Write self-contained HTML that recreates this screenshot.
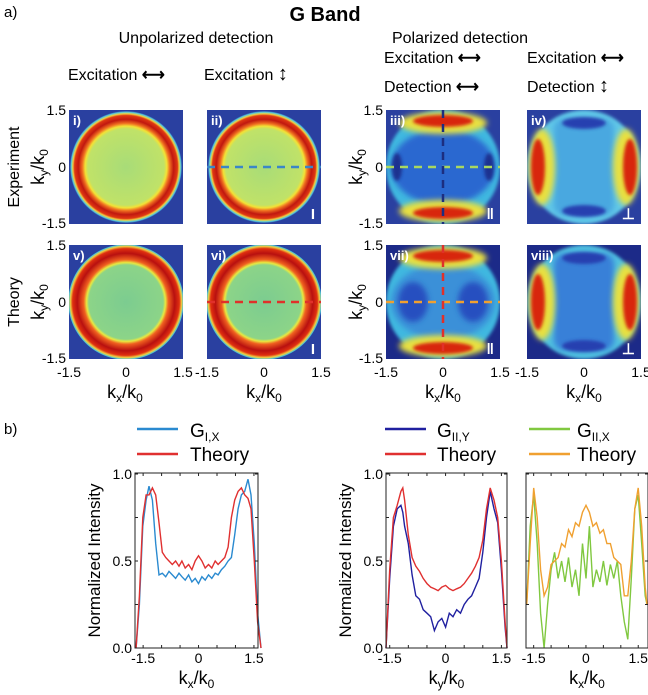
<!DOCTYPE html>
<html><head><meta charset="utf-8"><style>
body{margin:0;background:#fff;}
svg{display:block;font-family:"Liberation Sans",sans-serif;}
</style></head><body>
<svg id="fig" width="648" height="695" viewBox="0 0 648 695">
<defs>
<radialGradient id="gExp" cx="50%" cy="50%" r="50%">
<stop offset="0" stop-color="#a8dc78"/><stop offset="0.68" stop-color="#c0e268"/>
<stop offset="0.73" stop-color="#f2e236"/><stop offset="0.78" stop-color="#f07020"/>
<stop offset="0.85" stop-color="#c01810"/><stop offset="0.92" stop-color="#e03812"/>
<stop offset="0.95" stop-color="#f0d040"/><stop offset="0.98" stop-color="#50c8e0"/>
<stop offset="1" stop-color="#2c4aa8"/></radialGradient>
<radialGradient id="gTh" cx="50%" cy="50%" r="50%">
<stop offset="0" stop-color="#7ccc90"/><stop offset="0.64" stop-color="#8cd488"/>
<stop offset="0.68" stop-color="#e8e840"/><stop offset="0.73" stop-color="#f06020"/>
<stop offset="0.84" stop-color="#b81010"/><stop offset="0.92" stop-color="#e03010"/>
<stop offset="0.96" stop-color="#f0d040"/><stop offset="0.99" stop-color="#40c0e0"/>
<stop offset="1" stop-color="#243c9c"/></radialGradient>
<filter id="bl" x="-50%" y="-50%" width="200%" height="200%"><feGaussianBlur stdDeviation="3"/></filter>
<filter id="bl2" x="-50%" y="-50%" width="200%" height="200%"><feGaussianBlur stdDeviation="1.5"/></filter>
</defs>

<text x="4" y="17" font-size="15">a)</text>
<text x="325" y="21" font-size="20" font-weight="bold" text-anchor="middle">G Band</text>
<text x="196" y="43" font-size="16" text-anchor="middle">Unpolarized detection</text>
<text x="460" y="43" font-size="16" text-anchor="middle">Polarized detection</text>
<text x="68" y="80" font-size="16">Excitation <tspan font-weight="bold">⟷</tspan></text>
<text x="204" y="80" font-size="16">Excitation <tspan font-weight="bold" font-size="20">↕</tspan></text>
<text x="384" y="63" font-size="16">Excitation <tspan font-weight="bold">⟷</tspan></text>
<text x="384" y="92" font-size="16">Detection <tspan font-weight="bold">⟷</tspan></text>
<text x="527" y="63" font-size="16">Excitation <tspan font-weight="bold">⟷</tspan></text>
<text x="527" y="92" font-size="16">Detection <tspan font-weight="bold" font-size="20">↕</tspan></text>

<g id="maps"></g>

<text transform="translate(19,167) rotate(-90)" font-size="16" text-anchor="middle">Experiment</text>
<text transform="translate(19,302) rotate(-90)" font-size="16" text-anchor="middle">Theory</text>
<text transform="translate(44,167) rotate(-90)" font-size="18" text-anchor="middle">k<tspan font-size="12" dy="4">y</tspan><tspan dy="-4">/k</tspan><tspan font-size="12" dy="4">0</tspan></text>
<text transform="translate(44,302) rotate(-90)" font-size="18" text-anchor="middle">k<tspan font-size="12" dy="4">y</tspan><tspan dy="-4">/k</tspan><tspan font-size="12" dy="4">0</tspan></text>
<text transform="translate(362,167) rotate(-90)" font-size="18" text-anchor="middle">k<tspan font-size="12" dy="4">y</tspan><tspan dy="-4">/k</tspan><tspan font-size="12" dy="4">0</tspan></text>
<text transform="translate(362,302) rotate(-90)" font-size="18" text-anchor="middle">k<tspan font-size="12" dy="4">y</tspan><tspan dy="-4">/k</tspan><tspan font-size="12" dy="4">0</tspan></text>

<g id="ticks" font-size="14"></g>
<text x="125" y="398" font-size="18" text-anchor="middle">k<tspan font-size="12" dy="4">x</tspan><tspan dy="-4">/k</tspan><tspan font-size="12" dy="4">0</tspan></text>
<text x="264" y="398" font-size="18" text-anchor="middle">k<tspan font-size="12" dy="4">x</tspan><tspan dy="-4">/k</tspan><tspan font-size="12" dy="4">0</tspan></text>
<text x="443" y="398" font-size="18" text-anchor="middle">k<tspan font-size="12" dy="4">x</tspan><tspan dy="-4">/k</tspan><tspan font-size="12" dy="4">0</tspan></text>
<text x="584" y="398" font-size="18" text-anchor="middle">k<tspan font-size="12" dy="4">x</tspan><tspan dy="-4">/k</tspan><tspan font-size="12" dy="4">0</tspan></text>

<text x="4" y="434" font-size="15">b)</text>
<g id="plots"></g>
</svg>
<script>
// ---- line plot data ----
const x1 = [-1.69,-1.6,-1.51,-1.42,-1.34,-1.25,-1.16,-1.07,-0.98,-0.89,-0.8,-0.71,-0.62,-0.53,-0.45,-0.36,-0.27,-0.18,-0.09,0,0.09,0.18,0.27,0.36,0.45,0.53,0.62,0.71,0.8,0.89,0.98,1.07,1.16,1.25,1.34,1.42,1.51,1.6,1.69];
const theory1 = [0,0.3,0.75,0.88,0.88,0.92,0.88,0.72,0.55,0.52,0.5,0.48,0.5,0.47,0.5,0.46,0.48,0.45,0.5,0.53,0.5,0.46,0.48,0.46,0.5,0.48,0.5,0.52,0.58,0.75,0.85,0.9,0.92,0.88,0.86,0.8,0.5,0.15,0];
const exp1 = [0,0.25,0.7,0.85,0.93,0.85,0.6,0.42,0.43,0.41,0.44,0.42,0.4,0.43,0.41,0.39,0.42,0.38,0.4,0.37,0.41,0.39,0.42,0.4,0.43,0.42,0.45,0.47,0.5,0.52,0.65,0.8,0.88,0.9,0.97,0.88,0.6,0.2,0];
const x2 = [-1.6,-1.5,-1.4,-1.3,-1.2,-1.15,-1.1,-1.0,-0.9,-0.8,-0.7,-0.6,-0.5,-0.4,-0.3,-0.2,-0.1,0,0.1,0.2,0.3,0.4,0.5,0.6,0.7,0.8,0.9,1.0,1.1,1.2,1.3,1.4,1.5,1.6,1.65];
const theory2 = [0,0.45,0.75,0.82,0.9,0.92,0.85,0.65,0.52,0.47,0.44,0.4,0.37,0.35,0.34,0.33,0.35,0.36,0.34,0.33,0.34,0.35,0.37,0.4,0.43,0.47,0.52,0.62,0.8,0.92,0.85,0.75,0.5,0.15,0];
const exp2 = [0,0.4,0.7,0.8,0.82,0.78,0.7,0.6,0.42,0.3,0.28,0.22,0.2,0.18,0.1,0.15,0.17,0.12,0.2,0.18,0.22,0.2,0.25,0.28,0.3,0.35,0.4,0.55,0.75,0.9,0.8,0.72,0.45,0.12,0];
const x3 = [-1.7,-1.6,-1.5,-1.4,-1.3,-1.2,-1.1,-1.0,-0.9,-0.8,-0.7,-0.6,-0.5,-0.4,-0.3,-0.2,-0.1,0,0.1,0.2,0.3,0.4,0.5,0.6,0.7,0.8,0.9,1.0,1.1,1.2,1.3,1.4,1.5,1.6,1.7,1.75];
const theory3 = [0.25,0.6,0.92,0.75,0.45,0.3,0.35,0.48,0.5,0.52,0.6,0.58,0.68,0.64,0.72,0.7,0.78,0.82,0.78,0.7,0.72,0.66,0.68,0.6,0.6,0.52,0.5,0.48,0.3,0.3,0.5,0.8,0.92,0.7,0.35,0.25];
const exp3 = [0.25,0.7,0.88,0.6,0.2,0.0,0.25,0.45,0.55,0.4,0.5,0.38,0.52,0.35,0.45,0.3,0.6,0.4,0.7,0.35,0.45,0.38,0.5,0.36,0.48,0.4,0.5,0.3,0.15,0.05,0.4,0.8,0.88,0.6,0.3,0.25];
const yTicks = [0, 0.5, 1];
const yTickLabels = ["0.0","0.5","1.0"];
const yMinor = [0.25, 0.75];
const xTicks = [-1.5, 0, 1.5];
const xTickLabels = ["-1.5","0","1.5"];
const xMinor = [-1, -0.5, 0.5, 1];

const NS = "http://www.w3.org/2000/svg";
function mk(tag, attrs, parent){const e=document.createElementNS(NS,tag);for(const k in attrs)e.setAttribute(k,attrs[k]);parent.appendChild(e);return e;}

// ---- heatmap panels ----
const maps = document.getElementById('maps');
const panels = [
 {id:'i', x:69,y:110,type:'exp'}, {id:'ii',x:207,y:110,type:'exp',h:'#3a86c8'},
 {id:'v', x:69,y:245,type:'th'}, {id:'vi',x:207,y:245,type:'th',h:'#e0302a'},
 {id:'iii',x:386,y:110,type:'par',h:'#a8d860',v:'#1c2e80'}, {id:'iv',x:527,y:110,type:'perp'},
 {id:'vii',x:386,y:245,type:'par',h:'#f0a030',v:'#e0302a',dark:1}, {id:'viii',x:527,y:245,type:'perp',dark:1}
];
const mark = {i:'',ii:'I',v:'',vi:'I',iii:'‖',iv:'⊥',vii:'‖',viii:'⊥'};
const S=114;
panels.forEach(p=>{
  const g=mk('g',{},maps);
  
  
  const cid='cp'+p.id;
  const cp=mk('clipPath',{id:cid},g); mk('rect',{x:p.x,y:p.y,width:S,height:S},cp);
  const c=mk('g',{'clip-path':'url(#'+cid+')'},g);
  const cx=p.x+S/2, cy=p.y+S/2;
  const bg = p.dark ? '#1c2a88' : '#2a40a0';
  mk('rect',{x:p.x,y:p.y,width:S,height:S,fill:bg},c);
  if(p.type==='exp'||p.type==='th'){
    mk('circle',{cx:cx,cy:cy,r:p.type==='exp'?56:58,fill:p.type==='exp'?'url(#gExp)':'url(#gTh)'},c);
  } else if(p.type==='par'){
    mk('circle',{cx:cx,cy:cy,r:57,fill:'#40b8e0',filter:'url(#bl2)'},c);
    mk('ellipse',{cx:cx,cy:cy,rx:52,ry:38,fill:p.dark?'#3a90d8':'#2a68d0',filter:'url(#bl)'},c);
    if(p.dark){mk('ellipse',{cx:cx-30,cy:cy,rx:15,ry:20,fill:'#2850c0',filter:'url(#bl)'},c);mk('ellipse',{cx:cx+30,cy:cy,rx:15,ry:20,fill:'#2850c0',filter:'url(#bl)'},c);}
    else {mk('ellipse',{cx:cx-46,cy:cy,rx:5,ry:14,fill:'#1c3090',filter:'url(#bl2)'},c);mk('ellipse',{cx:cx+46,cy:cy,rx:5,ry:14,fill:'#1c3090',filter:'url(#bl2)'},c);}
    [-1,1].forEach(s=>{
      mk('ellipse',{cx:cx,cy:cy+s*44,rx:44,ry:11,fill:'#e8e040',filter:'url(#bl)'},c);
      mk('ellipse',{cx:cx,cy:cy+s*46,rx:30,ry:6,fill:'#d82810',filter:'url(#bl2)'},c);
    });
  } else {
    mk('circle',{cx:cx,cy:cy,r:57,fill:p.dark?'#50c0e0':'#60c8e8',filter:'url(#bl2)'},c);
    mk('rect',{x:cx-30,y:cy-48,width:60,height:96,rx:10,fill:p.dark?'#3880d8':'#48a8e0',filter:'url(#bl)'},c);
    [-1,1].forEach(s=>{
      mk('ellipse',{cx:cx,cy:cy+s*44,rx:22,ry:6,fill:'#2840b0',filter:'url(#bl2)'},c);
      mk('ellipse',{cx:cx+s*42,cy:cy,rx:13,ry:38,fill:'#e8e040',filter:'url(#bl)'},c);
      mk('ellipse',{cx:cx+s*46,cy:cy,rx:7,ry:28,fill:'#d82810',filter:'url(#bl2)'},c);
    });
  }
  if(p.h) mk('line',{x1:p.x,y1:cy,x2:p.x+S,y2:cy,stroke:p.h,'stroke-width':2.5,'stroke-dasharray':'8,6'},c);
  if(p.v) mk('line',{x1:cx,y1:p.y,x2:cx,y2:p.y+S,stroke:p.v,'stroke-width':2.5,'stroke-dasharray':'8,6'},c);
  const t=mk('text',{x:p.x+4,y:p.y+15,fill:'#fff','font-size':13,'font-weight':'bold'},g); t.textContent=p.id+')';
  if(mark[p.id]){const m=mk('text',{x:p.x+S-6,y:p.y+S-5,fill:'#fff','font-size':15,'font-weight':'bold','text-anchor':'end'},g); m.textContent=mark[p.id];}
});
// map tick labels
const tk=document.getElementById('ticks');
[[69,110],[69,245],[386,110],[386,245]].forEach(([x,y])=>{
  [['1.5',y+5],['0',y+S/2+5],['-1.5',y+S+4]].forEach(([s,yy])=>{const t=mk('text',{x:x-3,y:yy,'text-anchor':'end'},tk);t.textContent=s;});
});
[69,207,386,527].forEach(x=>{
  [['-1.5',x],['0',x+S/2],['1.5',x+S]].forEach(([s,xx])=>{const t=mk('text',{x:xx,y:377,'text-anchor':'middle'},tk);t.textContent=s;});
});

// ---- line plots ----
const plots=document.getElementById('plots');
const cfg=[
 {name:'plot-gix',x0:135,x1:258,d0:-1.72,d1:1.61,series:[[x1,exp1,'#2a8ad0','series-gix'],[x1,theory1,'#e03030','series-theory-1']],ylab:true,xl:'x',leg:[['G','I,X'],'Theory'],lx:137,tx:190,cols:['#2a8ad0','#e03030']},
 {name:'plot-giiy',x0:386,x1:507,d0:-1.6,d1:1.65,series:[[x2,exp2,'#2020a0','series-giiy'],[x2,theory2,'#e03030','series-theory-2']],ylab:true,xl:'y',leg:[['G','II,Y'],'Theory'],lx:385,tx:437,cols:['#2020a0','#e03030']},
 {name:'plot-giix',x0:526,x1:648,d0:-1.72,d1:1.78,series:[[x3,exp3,'#80c840','series-giix'],[x3,theory3,'#f0a030','series-theory-3']],ylab:false,xl:'x',leg:[['G','II,X'],'Theory'],lx:529,tx:577,cols:['#80c840','#f0a030']}
];
const yT=473, yB=648;
const ys=v=>yB-(yB-474)*v;
cfg.forEach(c=>{
  const g=mk('g',{},plots);
  
  
  const xs=v=>c.x0+(v-c.d0)/(c.d1-c.d0)*(c.x1-c.x0);
  c.series.forEach(([xa,ya,col,nm])=>{
    const n=Math.min(xa.length,ya.length);
    let d='';for(let i=0;i<n;i++)d+=(i?'L':'M')+xs(xa[i]).toFixed(1)+','+ys(ya[i]).toFixed(1);
    const p=mk('path',{d:d,fill:'none',stroke:col,'stroke-width':1.4},g);
    
    
  });
  mk('rect',{x:c.x0,y:yT,width:c.x1-c.x0,height:yB-yT,fill:'none',stroke:'#222','stroke-width':1},g);
  yTicks.concat(yMinor).forEach(v=>{
    mk('line',{x1:c.x0,y1:ys(v),x2:c.x0+3,y2:ys(v),stroke:'#222'},g);
    mk('line',{x1:c.x1,y1:ys(v),x2:c.x1-3,y2:ys(v),stroke:'#222'},g);
  });
  yTicks.forEach((v,i)=>{
    if(c.ylab){const t=mk('text',{x:c.x0-3,y:ys(v)+5,'font-size':14,'text-anchor':'end'},g);t.textContent=yTickLabels[i];}
  });
  xTicks.concat(xMinor).forEach(v=>{
    mk('line',{x1:xs(v),y1:yB,x2:xs(v),y2:yB-3,stroke:'#222'},g);
    mk('line',{x1:xs(v),y1:yT,x2:xs(v),y2:yT+3,stroke:'#222'},g);
  });
  xTicks.forEach((v,i)=>{
    const t=mk('text',{x:xs(v),y:yB+15,'font-size':14,'text-anchor':'middle'},g);t.textContent=xTickLabels[i];
  });
  const xt=mk('text',{x:(c.x0+c.x1)/2,y:yB+36,'font-size':18,'text-anchor':'middle'},g);
  xt.innerHTML='k<tspan font-size="12" dy="4">'+c.xl+'</tspan><tspan dy="-4">/k</tspan><tspan font-size="12" dy="4">0</tspan>';
  if(c.ylab){const yt=mk('text',{transform:'translate('+(c.x0-35)+','+((yT+yB)/2)+') rotate(-90)','font-size':17,'text-anchor':'middle'},g);yt.textContent='Normalized Intensity';}
  // legend
  const lg=mk('g',{},g);
  
  
  mk('line',{x1:c.lx,y1:429,x2:c.lx+41,y2:429,stroke:c.cols[0],'stroke-width':2.5},lg);
  mk('line',{x1:c.lx,y1:454,x2:c.lx+41,y2:454,stroke:c.cols[1],'stroke-width':2.5},lg);
  const a=mk('text',{x:c.tx,y:437,'font-size':19},lg);a.innerHTML='G<tspan font-size="12" dy="4">'+c.leg[0][1]+'</tspan>';
  const b=mk('text',{x:c.tx,y:461,'font-size':19},lg);b.textContent='Theory';
});
</script>
</body></html>
